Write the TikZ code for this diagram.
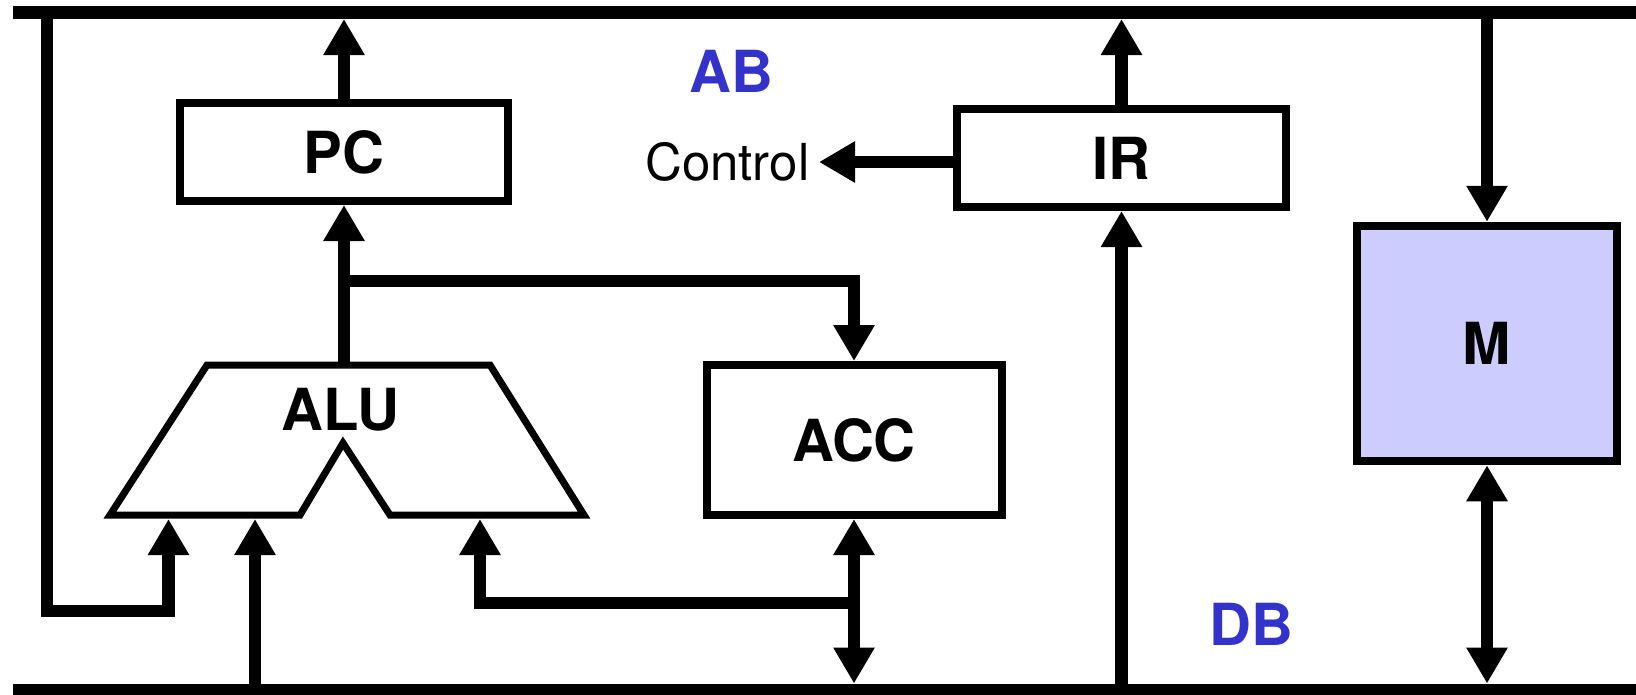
\documentclass[tikz,border=0pt]{standalone}
\usepackage{fontspec}
\setmainfont{TeX Gyre Heros}
\usepackage{xcolor}
\usetikzlibrary{arrows.meta}
\definecolor{busblue}{RGB}{51,51,204}
\definecolor{memfill}{RGB}{204,204,255}

\begin{document}
\begin{tikzpicture}[x = 0.1mm, y = -0.1mm,
  > = {Triangle[length = 3.6mm, width = 3.9mm]},
  reg/.style = {draw, line width = 0.8mm, fill = white, font = \bfseries\fontsize{16.5}{18}\selectfont},
  bus/.style = {line width = 1.3mm},
  wire/.style = {line width = 1.25mm},
  tobus/.style = {shorten > = 0.65mm},
  buslabel/.style = {text = busblue, font = \bfseries\fontsize{16.5}{18}\selectfont}]
\useasboundingbox (0,0) rectangle (1636,694);
\coordinate (ab) at (13,12.5);
\coordinate (db) at (13,690);
\draw [bus] (ab) -- ++(1640,0);
\draw [bus] (db) -- ++(1640,0);
\node [buslabel] (ablabel) at (731,71) {AB};
\node [buslabel] (dblabel) at (1251,624) {DB};

\node [reg, minimum width = 32.8mm, minimum height = 9.8mm] (pc) at (344,152) {PC};
\node [reg, minimum width = 32.9mm, minimum height = 9.8mm] (ir) at (1121.5,158) {IR};
\node [reg, minimum width = 29.5mm, minimum height = 15mm] (acc) at (854,440) {ACC};
\node [reg, line width = 0.85mm, fill = memfill, minimum width = 26mm, minimum height = 23.5mm] (m) at (1487,343.5) {M};
\node [anchor = east, inner sep = 0.9mm, font = \fontsize{14.5}{17}\selectfont] (control) at (819,162) {Control};

\draw [line width = 0.7mm] (207,365) -- (490,365) -- (584,515) -- (390,515) -- (343,443) -- (300,515) -- (110,515) -- cycle;
\node [font = \bfseries\fontsize{16.5}{18}\selectfont] (alu) at (340,410) {ALU};
\coordinate (alu out) at (344,365);
\coordinate (split) at (344,281);
\coordinate (alu a) at (168.5,519);
\coordinate (alu b) at (255,519);
\coordinate (alu c) at (480,519);
\coordinate (loop) at (47,611);
\coordinate (acc tap) at (854,603);

\draw [wire, ->, tobus] (pc.north) -- (pc.north |- ab);
\draw [wire, ->] (alu out) -- (pc.south);
\draw [wire, ->] (split) -| (acc.north);
\draw [wire, ->] (loop |- ab) -- (loop) -| (alu a);
\draw [wire, ->] (alu b |- db) -- (alu b);
\draw [wire, ->] (acc tap) -| (alu c);
\draw [wire, <->, tobus] (acc.south) -- (acc.south |- db);
\draw [wire, ->, tobus] (ir.north) -- (ir.north |- ab);
\draw [wire, ->] (ir.south |- db) -- (ir.south);
\draw [wire, ->] (ir.west |- control.east) -- (control.east);
\draw [wire, ->] (m.north |- ab) -- (m.north);
\draw [wire, <->, tobus] (m.south) -- (m.south |- db);
\end{tikzpicture}
\end{document}
